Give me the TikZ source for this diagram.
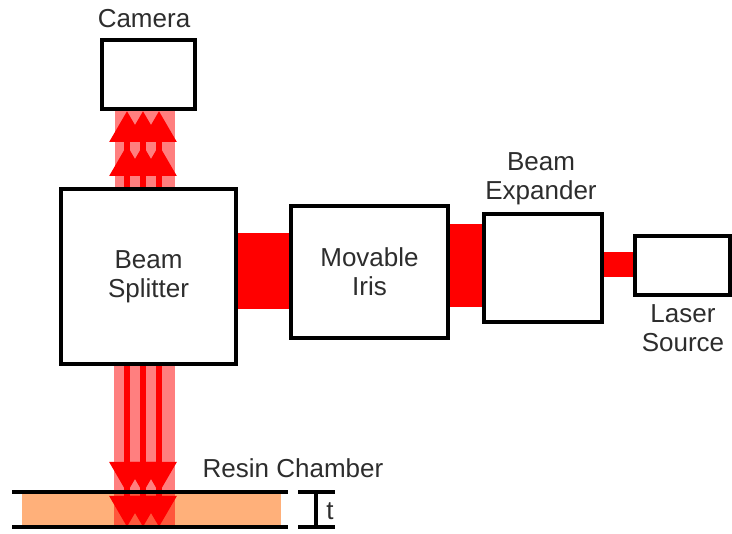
\documentclass[tikz,border=0pt]{standalone}
\usepackage{fontspec}
\setmainfont{Liberation Sans}
\usetikzlibrary{arrows.meta}
\definecolor{resin}{RGB}{255,176,122}
\definecolor{ink}{RGB}{45,45,45}

\begin{document}
\begin{tikzpicture}[
    x=1pt, y=-1pt,
    font=\fontsize{26}{29}\selectfont,
    box/.style={draw=black, line width=4pt, fill=white, inner sep=0pt, text=ink, align=center},
    caption/.style={text=ink, align=center, inner sep=0pt},
    beam/.style={fill=red},
    glow/.style={fill=red, fill opacity=0.5},
    ray/.style={draw=red, line width=6pt,
      -{Triangle[length=31pt,width=34pt,sep=3pt]Triangle[length=31pt,width=34pt]}},
    wall/.style={draw=black, line width=4pt}]

    \useasboundingbox (0,0) rectangle (732,534);

    \node[box, minimum width=93pt, minimum height=69pt] (camera) at (148.5,74.5) {};
    \node[box, minimum width=175pt, minimum height=175pt] (splitter) at (148.5,276.5) {Beam\\Splitter};
    \node[box, minimum width=157pt, minimum height=132pt] (iris) at (369.5,272) {Movable\\Iris};
    \node[box, minimum width=118pt, minimum height=108pt] (expander) at (543,268) {};
    \node[box, minimum width=95pt, minimum height=59pt] (laser) at (682.5,265.5) {};

    \node[caption] (cameralabel) at (144,19) {Camera};
    \node[caption] (expanderlabel) at (541,179) {Beam\\Expander};
    \node[caption] (laserlabel) at (683,328) {Laser\\Source};
    \node[caption] (resinlabel) at (293,468) {Resin Chamber};
    \node[caption] (thick) at (330,511) {t};

    \fill[beam] (splitter.east |- 0,233) rectangle (iris.west |- 0,309);
    \fill[beam] (iris.east |- 0,224) rectangle (expander.west |- 0,307);
    \fill[beam] (expander.east |- 0,252) rectangle (laser.west |- 0,277);

    \coordinate (lid) at (150,492);
    \coordinate (floor) at (150,527);
    \fill[resin] (22,492) rectangle (281,527);

    \fill[glow] (camera.south -| 115,0) rectangle (splitter.north -| 175,0);
    \fill[glow] (splitter.south -| 114,0) rectangle (floor -| 175,0);

    \foreach \x in {127,143,159} {
      \draw[ray] (splitter.north -| \x,0) -- (camera.south -| \x,0);
      \draw[ray] (splitter.south -| \x,0) -- (floor -| \x,0);
    }

    \draw[wall] (lid -| 12,0) -- (lid -| 288,0);
    \draw[wall] (floor -| 12,0) -- (floor -| 288,0);

    \draw[wall] (lid -| 298,0) -- (lid -| 335,0);
    \draw[wall] (floor -| 298,0) -- (floor -| 335,0);
    \draw[wall] (lid -| 316,0) -- (floor -| 316,0);
  \end{tikzpicture}
\end{document}
